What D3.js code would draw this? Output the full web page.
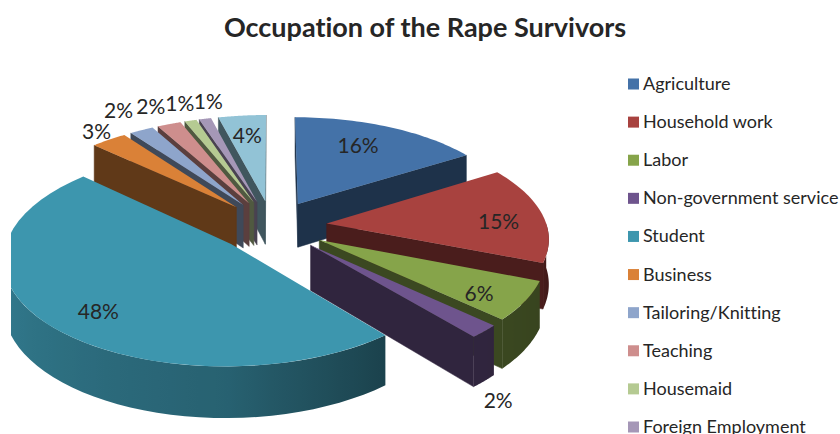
<!DOCTYPE html>
<html>
<head>
<meta charset="utf-8">
<script src="https://d3js.org/d3.v7.min.js"></script>
<style>
  html, body { margin: 0; padding: 0; background: #fff; overflow: hidden; }
  text { font-family: Lato, "Open Sans", sans-serif; fill: #262626; font-variant-ligatures: none; }
</style>
</head>
<body>
<svg id="chart" width="840" height="434"></svg>
<script>
// legend only shows the first ten names, the last one is cut off in the original
const categories = ['Agriculture', 'Household work', 'Labor', 'Non-government service', 'Student',
  'Business', 'Tailoring/Knitting', 'Teaching', 'Housemaid', 'Foreign Employment', 'Other'];
const values = [16, 15, 6, 2, 48, 3, 2, 2, 1, 1, 4];
const colors = ['#4472a8', '#a8423f', '#86a44a', '#6e548d', '#3d96ae', '#da8137',
  '#8ea5cb', '#ce8e8d', '#b5ca92', '#a597b7', '#92c3d6'];
// back slices first, front ones last
const drawOrder = [10, 9, 8, 7, 0, 6, 5, 1, 2, 3, 4];
// where the percent labels sit: radius as share of the pie, and angle nudge in degrees
const labelRadius = [0.72, 0.78, 0.80, 1.38, 0.78, 1.12, 1.29, 1.25, 1.24, 1.22, 0.75];
const labelNudge = [-3.3, 3.5, 2.8, 14, -4.1, 0.9, 1.1, 0, 0.8, 3.5, 0];

const R = 224, explode = 56, depth = 45;
const cx = 272, cy = 226, squash = 0.458, persp = 0.00055, scale0 = 0.983;

const svg = d3.select('#chart');
const defs = svg.append('defs');

svg.append('text')
  .attr('x', 425).attr('y', 37)
  .attr('text-anchor', 'middle')
  .attr('font-size', 27).attr('font-weight', 700)
  .text('Occupation of the Rape Survivors');

// the original picture cuts the big slice off on the left
defs.append('clipPath').attr('id', 'plotClip')
  .append('rect').attr('x', 11).attr('y', 0).attr('width', 600).attr('height', 434);

const plot = svg.append('g').attr('clip-path', 'url(#plotClip)');

// pie plane -> screen, with a bit of perspective
function project(X, Y, drop) {
  const t = 1 / (1 + persp * Y);
  const s = scale0 * t;
  return [cx + X * s, cy - squash * Y * t + (drop || 0) * s];
}

const arcs = d3.pie().sort(null)(values).map((d, i) => {
  const mid = (d.startAngle + d.endAngle) / 2;
  return {
    i,
    a0: d.startAngle,
    a1: d.endAngle,
    mid,
    x0: explode * Math.sin(mid),
    y0: explode * Math.cos(mid)
  };
});

const line = d3.line();
const deg = Math.PI / 180;
const rimShade = d3.scaleLinear()
  .domain([90 * deg, 140 * deg, 180 * deg, 270 * deg])
  .range([2.6, 2.3, 1.2, 0.45])
  .clamp(true);

function rimPoint(d, a, drop) {
  return project(d.x0 + R * Math.sin(a), d.y0 + R * Math.cos(a), drop);
}

drawOrder.forEach(i => {
  const d = arcs[i];
  const g = plot.append('g');
  const base = d3.color(colors[i]);
  const apex = project(d.x0, d.y0);
  const apexLow = project(d.x0, d.y0, depth);
  const wall = base.darker(2.3).formatHex();

  // cut faces, only the ones that look towards the viewer
  [d.a0, d.a1].forEach((a, k) => {
    const p = rimPoint(d, a);
    const visible = k === 0 ? p[0] < apex[0] : p[0] > apex[0];
    if (!visible) return;
    g.append('path')
      .attr('d', line([apex, p, rimPoint(d, a, depth), apexLow]) + 'Z')
      .attr('fill', wall).attr('stroke', wall).attr('stroke-width', 0.5);
  });

  // outer rim, shade follows the x position through a gradient
  const from = Math.max(d.a0, 90 * deg), to = Math.min(d.a1, 270 * deg);
  if (to > from) {
    const samples = d3.range(0, 41).map(n => from + (to - from) * n / 40);
    const upper = samples.map(a => rimPoint(d, a));
    const lower = samples.map(a => rimPoint(d, a, depth)).reverse();
    const xRight = upper[0][0], xLeft = upper[40][0];
    const grad = defs.append('linearGradient')
      .attr('id', 'rim' + i)
      .attr('gradientUnits', 'userSpaceOnUse')
      .attr('x1', xRight).attr('x2', xLeft).attr('y1', 0).attr('y2', 0);
    samples.forEach((a, n) => {
      grad.append('stop')
        .attr('offset', (upper[n][0] - xRight) / (xLeft - xRight))
        .attr('stop-color', base.darker(rimShade(a)).formatHex());
    });
    g.append('path')
      .attr('d', line(upper.concat(lower)) + 'Z')
      .attr('fill', `url(#rim${i})`);
  }

  // top face
  const top = d3.range(0, 41).map(n => rimPoint(d, d.a0 + (d.a1 - d.a0) * n / 40));
  g.append('path')
    .attr('d', line([apex].concat(top)) + 'Z')
    .attr('fill', colors[i]);
});

// percent labels
plot.selectAll('.pct')
  .data(arcs)
  .enter()
  .append('text')
  .attr('class', 'pct')
  .attr('text-anchor', 'middle')
  .attr('dominant-baseline', 'central')
  .attr('font-size', 21)
  .attr('x', d => labelPoint(d)[0])
  .attr('y', d => labelPoint(d)[1])
  .text(d => values[d.i] + '%');

function labelPoint(d) {
  const r = 226 * labelRadius[d.i];
  const a = d.mid + labelNudge[d.i] * deg;
  return project(d.x0 + r * Math.sin(a), d.y0 + r * Math.cos(a));
}

// legend
const legendNames = categories.slice(0, 10);
const legendY = d3.scalePoint().domain(legendNames).range([84, 427]);
const legend = svg.selectAll('.legend')
  .data(legendNames)
  .enter()
  .append('g')
  .attr('class', 'legend')
  .attr('transform', d => `translate(628, ${legendY(d)})`);

legend.append('rect')
  .attr('x', 0).attr('y', -5.5)
  .attr('width', 11).attr('height', 11)
  .attr('fill', (d, i) => colors[i]);

legend.append('text')
  .attr('x', 15).attr('y', 6)
  .attr('font-size', 18)
  .text(d => d);
</script>
</body>
</html>
